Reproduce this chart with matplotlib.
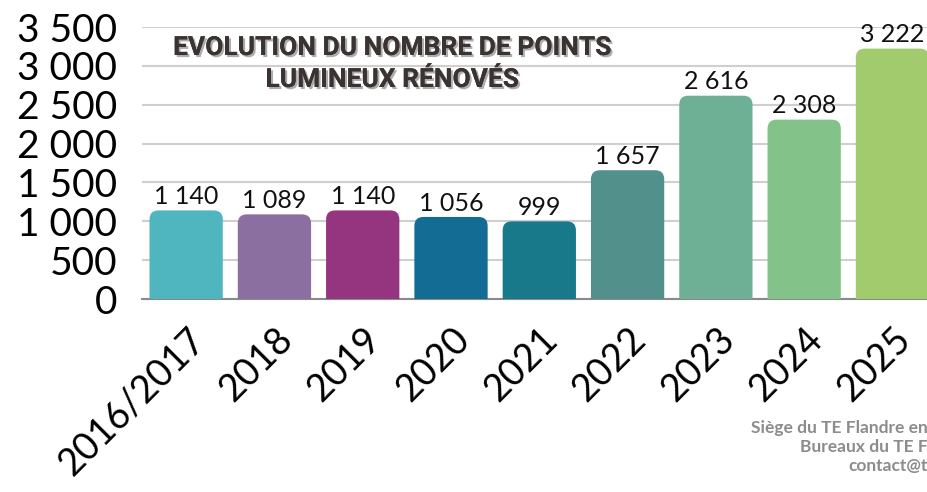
import matplotlib
matplotlib.use("Agg")
import matplotlib.pyplot as plt
from matplotlib.patches import FancyBboxPatch
import matplotlib.patheffects as pe

categories = ["2016/2017", "2018", "2019", "2020", "2021", "2022", "2023", "2024", "2025"]
values = [1140, 1089, 1140, 1056, 999, 1657, 2616, 2308, 3222]
colors = ["#4FB5BE", "#8B6FA0", "#953580", "#126C94", "#177989",
          "#52918B", "#6DB096", "#83C389", "#A2CB6E"]
yticks = [0, 500, 1000, 1500, 2000, 2500, 3000, 3500]
title_lines = ["EVOLUTION DU NOMBRE DE POINTS", "LUMINEUX RÉNOVÉS"]
footer_lines = ["Siège du TE Flandre en", "Bureaux du TE F", "contact@t"]

def fmt(v):
    return f"{v:,}".replace(",", " ")

W, H = 928, 492
fig = plt.figure(figsize=(W/100, H/100), dpi=100)
left, right = 142/W, 936.6/W
bottom, top = (H-299)/H, (H-27)/H
ax = fig.add_axes([left, bottom, right-left, top-bottom])

x = list(range(len(categories)))
bw = 0.83
bars = ax.bar(x, values, width=bw, color="none", edgecolor="none")
ax.set_xlim(-0.5, len(categories)-0.5)
ax.set_ylim(0, 3500)

# rounded-top bars
px_x = (right-left)*W / len(categories)
px_y = (top-bottom)*H / 3500
r_px = 9
pad_x = r_px/px_x
aspect = (1/px_y)/(1/px_x)
for b, c in zip(bars, colors):
    x0 = b.get_x(); w = b.get_width(); h = b.get_height()
    p = FancyBboxPatch((x0+pad_x, -300), w-2*pad_x, h+300-pad_x*aspect,
                       boxstyle=f"round,pad={pad_x},rounding_size={pad_x}",
                       mutation_aspect=aspect, facecolor=c, edgecolor="none",
                       zorder=3, clip_on=True)
    ax.add_patch(p)
    ax.text(b.get_x()+w/2, h + 30, fmt(h), ha="center", va="bottom",
            fontsize=18, family=["Lato", "DejaVu Sans"], color="#111111", zorder=4)

ax.set_yticks(yticks)
ax.set_yticklabels([fmt(v) for v in yticks], fontsize=28, family=["Lato", "DejaVu Sans"])
ax.tick_params(axis="y", length=0, pad=18)
ax.set_xticks(x)
ax.set_xticklabels(categories, rotation=45, ha="right", rotation_mode="anchor",
                   fontsize=27, family=["Lato", "DejaVu Sans"])
ax.tick_params(axis="x", length=0, pad=16)
ax.grid(axis="y", color="#CFCFCF", linewidth=1.5, zorder=0)
ax.set_axisbelow(True)
for s in ["top", "right", "left"]:
    ax.spines[s].set_visible(False)
ax.spines["bottom"].set_color("#8A8A8A")
ax.spines["bottom"].set_linewidth(1.5)

shadow = [pe.withSimplePatchShadow(offset=(1.5, -1.5), shadow_rgbFace="#999999", alpha=0.8)]
for i, line in enumerate(title_lines):
    t = fig.text(392/W, 1 - (48 + 32*i)/H, line, ha="center", va="center",
                 fontsize=19, fontweight="bold", color="#3A3331",
                 family=["Roboto", "DejaVu Sans"])
    t.set_path_effects(shadow + [pe.Normal()])

for i, line in enumerate(footer_lines):
    fig.text(928/W, 1 - (428 + 19*i)/H, line, ha="right", va="center",
             fontsize=12.5, fontweight="bold", color="#8C8C8C",
             family=["Lato", "DejaVu Sans"])

fig.savefig("out.png", dpi=100)
